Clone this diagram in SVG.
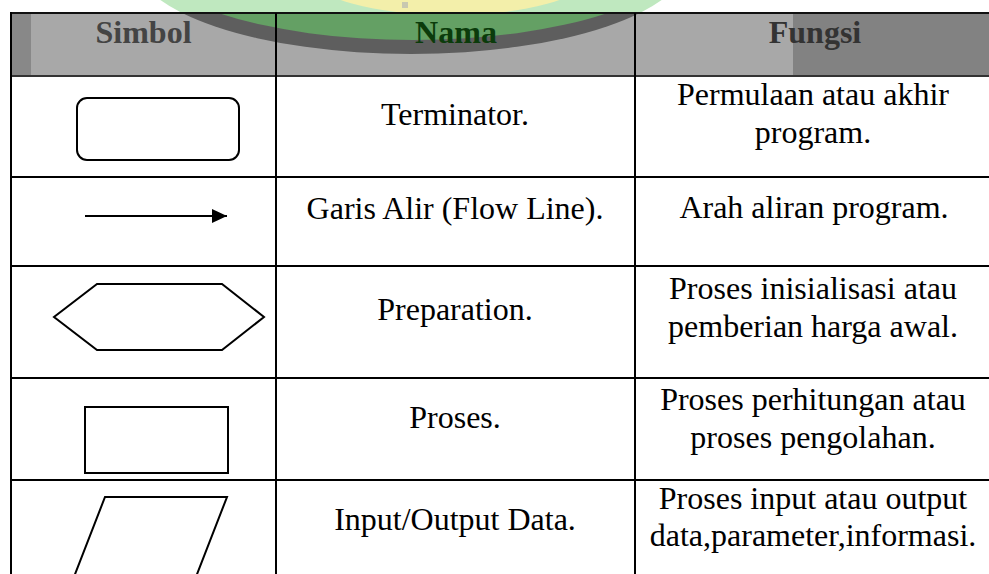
<svg xmlns="http://www.w3.org/2000/svg" width="989" height="574" viewBox="0 0 989 574">
<style>
.t{font-family:"Liberation Serif","Times New Roman",serif;font-size:32px;fill:#000;text-anchor:middle}
.h{font-family:"Liberation Serif","Times New Roman",serif;font-size:32px;font-weight:bold;text-anchor:middle}
.g{stroke:#000;stroke-width:2;fill:none}
.s{stroke:#000;stroke-width:2;fill:#fff}
</style>
<defs>
<clipPath id="clipHead"><rect x="11" y="13" width="978" height="63"/></clipPath>
<clipPath id="clipTop"><rect x="0" y="0" width="989" height="13"/></clipPath>
<marker id="arr" markerWidth="15" markerHeight="14" refX="15" refY="7" orient="auto" markerUnits="userSpaceOnUse">
<path d="M0,0 L15,7 L0,14 Z" fill="#000"/>
</marker>
</defs>
<rect width="989" height="574" fill="#fff"/>
<g id="watermark-top" clip-path="url(#clipTop)">
<ellipse cx="411" cy="-40" rx="277" ry="94" fill="#bfe8bf"/>
<ellipse cx="450" cy="-25" rx="140" ry="40" fill="#f3efaa"/>
<rect x="402" y="2" width="6" height="6" fill="#c8c8b0"/>
</g>
<g id="header">
<g clip-path="url(#clipHead)">
<rect x="11" y="13" width="978" height="63" fill="#a8a8a8"/>
<rect x="11" y="13" width="20" height="63" fill="#888"/>
<rect x="793" y="13" width="196" height="63" fill="#828282"/>
<ellipse cx="411" cy="-40" rx="277" ry="94" fill="#5e5e5e"/>
<ellipse cx="413" cy="-50" rx="272" ry="90" fill="#64a064"/>
</g>
<line x1="11" y1="13" x2="989" y2="13" stroke="#111" stroke-width="2"/>
<line x1="11" y1="76" x2="989" y2="76" stroke="#333" stroke-width="2"/>
<text class="h" x="143.5" y="43" fill="#444">Simbol</text>
<text class="h" x="456" y="43" fill="#0b3b0b">Nama</text>
<text class="h" x="815" y="43" fill="#333">Fungsi</text>
</g>
<g id="grid">
<line class="g" x1="11" y1="12" x2="11" y2="574"/>
<line class="g" x1="276" y1="13" x2="276" y2="574" stroke="#222"/>
<line class="g" x1="635" y1="13" x2="635" y2="574"/>
<line class="g" x1="11" y1="177" x2="989" y2="177"/>
<line class="g" x1="11" y1="266" x2="989" y2="266"/>
<line class="g" x1="11" y1="378" x2="989" y2="378"/>
<line class="g" x1="11" y1="480" x2="989" y2="480"/>
</g>
<g id="row-terminator">
<rect class="s" x="77" y="98" width="162" height="62" rx="10" ry="10"/>
<text class="t" x="455" y="125">Terminator.</text>
<text class="t" x="813" y="105">Permulaan atau akhir</text>
<text class="t" x="813" y="143">program.</text>
</g>
<g id="row-flowline">
<text class="t" x="455" y="219">Garis Alir (Flow Line).</text>
<text class="t" x="814" y="218">Arah aliran program.</text>
</g>
<g id="connectors">
<line x1="85" y1="216" x2="227" y2="216" stroke="#000" stroke-width="2" marker-end="url(#arr)"/>
</g>
<g id="row-preparation">
<polygon class="s" points="97,284 222,284 264,317 222,350 97,350 54,317"/>
<text class="t" x="455" y="320">Preparation.</text>
<text class="t" x="813" y="299">Proses inisialisasi atau</text>
<text class="t" x="813" y="337">pemberian harga awal.</text>
</g>
<g id="row-proses">
<rect class="s" x="85" y="407" width="143" height="66"/>
<text class="t" x="455" y="428">Proses.</text>
<text class="t" x="813" y="410">Proses perhitungan atau</text>
<text class="t" x="813" y="448">proses pengolahan.</text>
</g>
<g id="row-io">
<polygon class="s" points="105,497 227,497 187,600 65,600"/>
<text class="t" x="455" y="530">Input/Output Data.</text>
<text class="t" x="813" y="509">Proses input atau output</text>
<text class="t" x="813" y="546">data,parameter,informasi.</text>
</g>
</svg>
